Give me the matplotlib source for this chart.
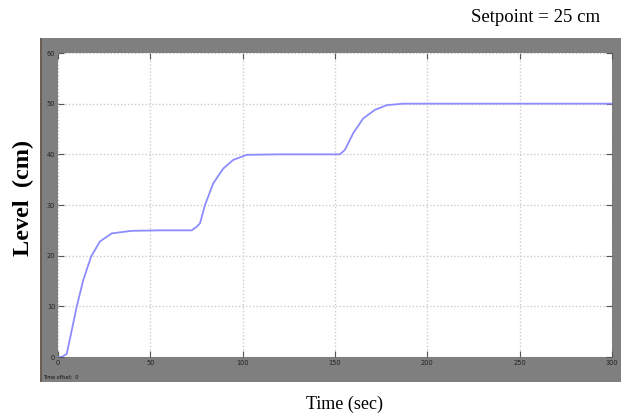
import matplotlib
matplotlib.use("Agg")
import matplotlib.pyplot as plt
from matplotlib.patches import Rectangle

# Data
time_s = [0, 2, 4.7, 7, 10.1, 13.7, 17.9, 22.7, 29.1, 39.9, 55, 72.4, 75.1, 76.9, 79.6,
          84.1, 89.5, 94.9, 102.2, 120, 152.7, 155.4, 159.9, 165.3, 171.7, 178, 186.8, 220, 260, 300]
level_cm = [0, 0, 0.6, 4.5, 9.9, 15.2, 19.8, 22.8, 24.4, 24.9, 25, 25, 25.7, 26.4, 30,
            34.3, 37.2, 38.9, 39.9, 40, 40, 40.9, 44.2, 47.1, 48.8, 49.7, 50, 50, 50, 50]
x_ticks = [0, 50, 100, 150, 200, 250, 300]
y_ticks = [0, 10, 20, 30, 40, 50, 60]

W, H = 622, 419
fig = plt.figure(figsize=(W / 100, H / 100), dpi=100)
fig.patch.set_facecolor("white")

# Gray scope panel
fig.patches.append(Rectangle((41 / W, (H - 382) / H), (621 - 41) / W, (382 - 38) / H,
                             transform=fig.transFigure, facecolor="#7f7f7f",
                             edgecolor="none", zorder=0))
fig.patches.append(Rectangle((40 / W, (H - 382) / H), 2 / W, (382 - 38) / H,
                             transform=fig.transFigure, facecolor="#6b5f55",
                             edgecolor="none", zorder=0))

ax = fig.add_axes([58 / W, (H - 357) / H, 554 / W, 304 / H])
ax.set_zorder(3)
ax.set_facecolor("white")
ax.plot(time_s, level_cm, color="#8c8cff", linewidth=1.3)
ax.set_xlim(0, 300)
ax.set_ylim(0, 60)
ax.set_xticks(x_ticks)
ax.set_yticks(y_ticks)
ax.grid(True, linestyle=(0, (1, 1.5)), color="#cccccc", linewidth=1.0)
ax.tick_params(direction="in", length=4, width=0.8, color="#555555",
               labelsize=4.8, labelcolor="#222222", pad=2,
               top=True, right=True)
for s in ax.spines.values():
    s.set_visible(False)

serif = ["Liberation Serif", "DejaVu Serif"]
fig.text(600 / W, 1 - 18 / H, "Setpoint = 25 cm", ha="right", va="center",
         fontsize=13.5, family=serif)
fig.text(23 / W, 1 - 198 / H, "Level  (cm)", ha="center", va="center", rotation=90,
         fontsize=17.5, fontweight="bold", family=serif)
fig.text(345 / W, 1 - 404 / H, "Time (sec)", ha="center", va="center",
         fontsize=13, family=serif)
fig.text(43 / W, 1 - 377 / H, "Time offset:  0", ha="left", va="center",
         fontsize=3.5, color="#111111")

fig.savefig("out.png", dpi=100)
